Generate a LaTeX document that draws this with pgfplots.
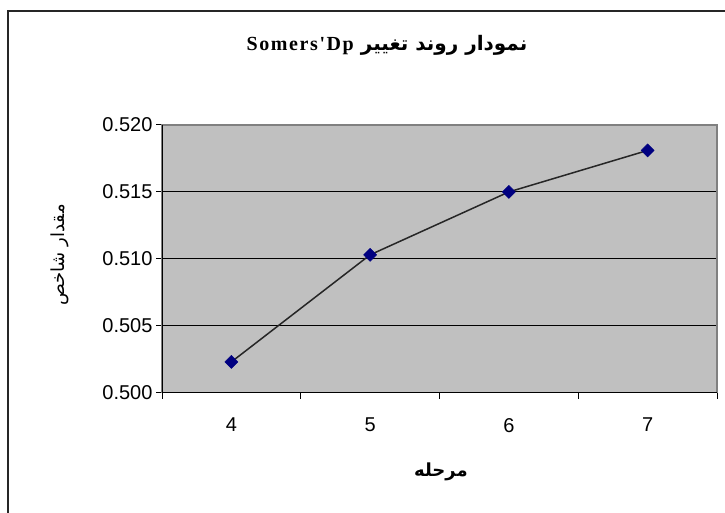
\documentclass[border=0pt]{standalone}
\usepackage{fontspec}
\setmainfont{Liberation Sans}
\newfontfamily\arabicfont[Script=Arabic]{DejaVu Sans}
\newfontfamily\serifb[LetterSpace=8]{Liberation Serif}
\TeXXeTstate=1
\usepackage{pgfplots}
\pgfplotsset{compat=1.18}
\definecolor{plotgray}{HTML}{C0C0C0}
\definecolor{navyblue}{HTML}{000080}
\definecolor{framegray}{HTML}{808080}
\begin{document}
\begin{tikzpicture}[x=1pt,y=1pt]
\useasboundingbox (0,0) rectangle (725,513);
\draw[line width=2pt, black!85] (8,-5) -- (8,502) -- (735,502);
\begin{axis}[
  at={(162pt,120.3pt)}, anchor=south west,
  width=555pt, height=267.7pt, scale only axis,
  xmin=3.5, xmax=7.5, ymin=0.5, ymax=0.52,
  axis background/.style={fill=plotgray},
  axis line style={draw=framegray, line width=1.5pt},
  xtick={4,5,6,7},
  minor xtick={3.5,4.5,5.5,6.5,7.5},
  major x tick style={draw=none},
  minor x tick style={black, line width=1pt},
  minor tick length=6pt,
  major tick length=6pt,
  ytick={0.500,0.505,0.510,0.515,0.520},
  y tick style={black, line width=1pt},
  tick align=outside,
  xtick pos=bottom, ytick pos=left,
  ymajorgrids,
  grid style={black, line width=1pt},
  /pgf/number format/assume math mode=true,
  yticklabel style={/pgf/number format/.cd, fixed, fixed zerofill, precision=3},
  ticklabel style={font=\fontsize{20}{24}\selectfont},
  xticklabel style={yshift=-16pt},
  scaled y ticks=false,
]
\addplot[color=black!85, line width=1.5pt, mark=square*, mark size=4.6pt,
  mark options={fill=navyblue, draw=navyblue, line width=0.5pt, rotate=45}]
  coordinates {(4,0.5023) (5,0.5103) (6,0.5150) (7,0.5181)};
\draw[black, line width=1.5pt] (rel axis cs:0,0) -- (rel axis cs:0,1);
\draw[black, line width=1.5pt] (rel axis cs:0,0) -- (rel axis cs:1,0);
\end{axis}
\node at (387,468) {\fontsize{20}{24}\selectfont\arabicfont\bfseries\beginR نمودار روند تغییر \beginL{\serifb\bfseries Somers'Dp}\endL\endR};
\node[rotate=90] at (60,258) {\fontsize{18}{22}\selectfont\arabicfont\beginR مقدار شاخص\endR};
\node at (441,41) {\fontsize{18}{22}\selectfont\arabicfont\bfseries\beginR مرحله\endR};
\end{tikzpicture}
\end{document}
